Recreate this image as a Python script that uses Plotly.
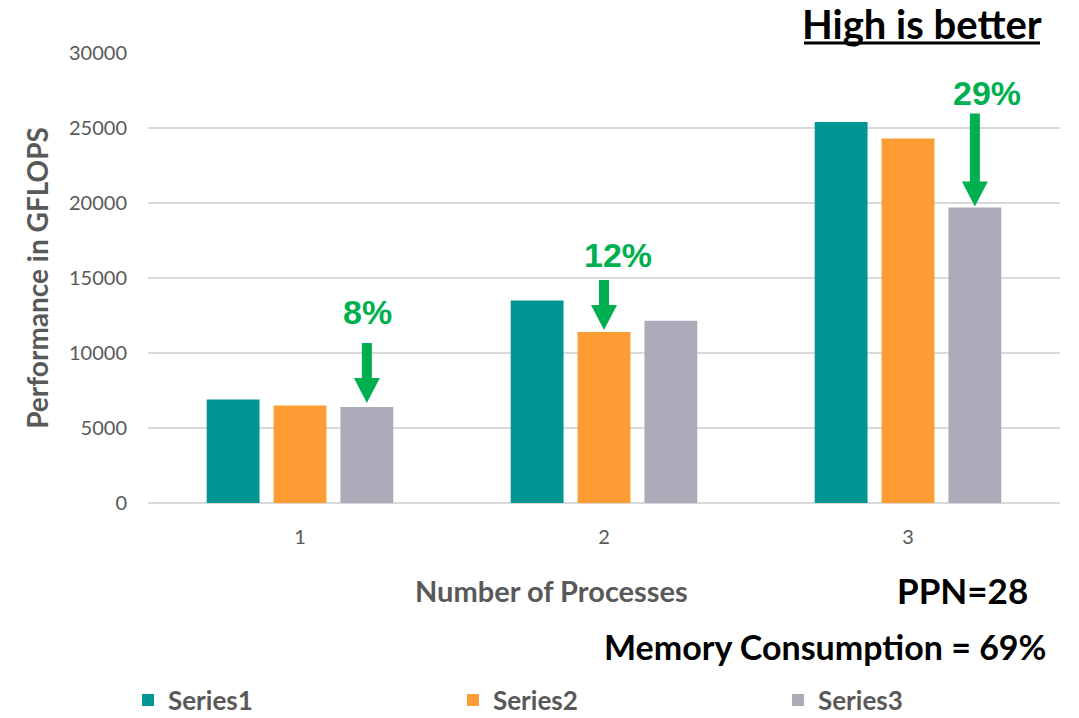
import plotly.graph_objects as go

# ---- data -------------------------------------------------------------
processes = [1, 2, 3]
tick_labels = ["1", "2", "3"]
series_names = ["Series1", "Series2", "Series3"]
series1 = [6900, 13500, 25400]
series2 = [6500, 11400, 24300]
series3 = [6400, 12150, 19700]
drop_labels = ["8%", "12%", "29%"]
drop_series = [2, 1, 2]          # index of the series each arrow points at

# ---- styling ----------------------------------------------------------
colors = ["#009694", "#FD9B35", "#ABABB9"]
green = "#00B050"
grey_text = "#595959"
grid = "#D9D9D9"
font_main = "Lato"

W, H = 1079, 718
M_L, M_R, M_T, M_B = 148, 19, 53, 215
Y_MAX = 30000
BARGAP, GROUPGAP = 0.34, 0.21

plot_w = W - M_L - M_R
plot_h = H - M_T - M_B
y_per_px = Y_MAX / plot_h
x_per_px = 3.0 / plot_w

fig = go.Figure()
all_series = [series1, series2, series3]
for name, vals, col in zip(series_names, all_series, colors):
    fig.add_trace(go.Bar(x=processes, y=vals, name=name, marker_color=col,
                         marker_line_width=0))

# ---- drop arrows with percentage labels --------------------------------
slot = (1 - BARGAP) / 3
arrow_len_px = [60, 50, 93]
tip_gap_px = [4, 2, 1]
label_gap_px = [10, 4, 0]
label_dx_px = [1, 14, 12]
shaft_w_px = 10
head_w_px = 26
head_h_px = 25

for i, (p, lab, s) in enumerate(zip(processes, drop_labels, drop_series)):
    xc = p + (s - 1) * slot
    v = all_series[s][i]
    y_tip = v + tip_gap_px[i] * y_per_px
    y_base = y_tip + head_h_px * y_per_px
    y_top = y_tip + arrow_len_px[i] * y_per_px
    hw = head_w_px / 2 * x_per_px
    sw = shaft_w_px / 2 * x_per_px
    fig.add_shape(type="rect", xref="x", yref="y",
                  x0=xc - sw, x1=xc + sw, y0=y_base - 2 * y_per_px, y1=y_top,
                  fillcolor=green, line_width=0)
    fig.add_shape(type="path", xref="x", yref="y",
                  path=f"M {xc - hw},{y_base} L {xc + hw},{y_base} L {xc},{y_tip} Z",
                  fillcolor=green, line_width=0)
    fig.add_annotation(x=xc + label_dx_px[i] * x_per_px,
                       y=y_top + label_gap_px[i] * y_per_px,
                       xref="x", yref="y", text=f"<b>{lab}</b>", showarrow=False,
                       yanchor="bottom", xanchor="center",
                       font=dict(family="Liberation Sans", size=34, color=green))

# ---- free text --------------------------------------------------------
def px_to_paper(px, py):
    return (px - M_L) / plot_w, (H - M_B - py) / plot_h

def add_text(text, px, py, size, color, family=font_main):
    x, y = px_to_paper(px, py)
    fig.add_annotation(x=x, y=y, xref="paper", yref="paper", text=text,
                       showarrow=False, xanchor="center", yanchor="middle",
                       font=dict(family=family, size=size, color=color))

add_text("<b>High is better</b>", 922, 24, 40, "#000000")
ux0, uy = px_to_paper(804, 43)
ux1, _ = px_to_paper(1040, 43)
fig.add_shape(type="line", xref="paper", yref="paper", x0=ux0, x1=ux1, y0=uy, y1=uy,
              line=dict(color="#000000", width=3))
add_text("<b>Number of Processes</b>", 551, 590, 29, grey_text)
add_text("<b>PPN=28</b>", 962, 590, 35, "#000000")
add_text("<b>Memory Consumption = 69%</b>", 825, 646, 34, "#000000")

# ---- layout -----------------------------------------------------------
lx, ly = px_to_paper(128, 700)
fig.update_layout(
    width=W, height=H,
    margin=dict(l=M_L, r=M_R, t=M_T, b=M_B, autoexpand=False),
    paper_bgcolor="white", plot_bgcolor="white",
    barmode="group", bargap=BARGAP, bargroupgap=GROUPGAP,
    font=dict(family=font_main, color=grey_text),
    showlegend=True,
    legend=dict(orientation="h", x=lx, y=ly, xanchor="left", yanchor="middle",
                entrywidth=280, entrywidthmode="pixels",
                font=dict(family=font_main, size=26, color=grey_text, weight="bold"),
                itemclick=False, itemdoubleclick=False),
    xaxis=dict(range=[0.5, 3.5], tickvals=processes, ticktext=tick_labels,
               showgrid=False, zeroline=False, showline=False,
               ticks="", ticklabelstandoff=20,
               tickfont=dict(family=font_main, size=20, color=grey_text),
               fixedrange=True),
    yaxis=dict(range=[0, Y_MAX], dtick=5000, tickformat="d",
               showgrid=True, gridcolor=grid,
               gridwidth=1.5, zeroline=True, zerolinecolor=grid, zerolinewidth=2,
               showline=False, ticks="", ticklabelstandoff=20,
               tickfont=dict(family=font_main, size=20, color=grey_text),
               title=dict(text="<b>Performance in GFLOPS</b>", standoff=12,
                          font=dict(family=font_main, size=28, color=grey_text)),
               fixedrange=True),
)

fig.write_html("out.html")
